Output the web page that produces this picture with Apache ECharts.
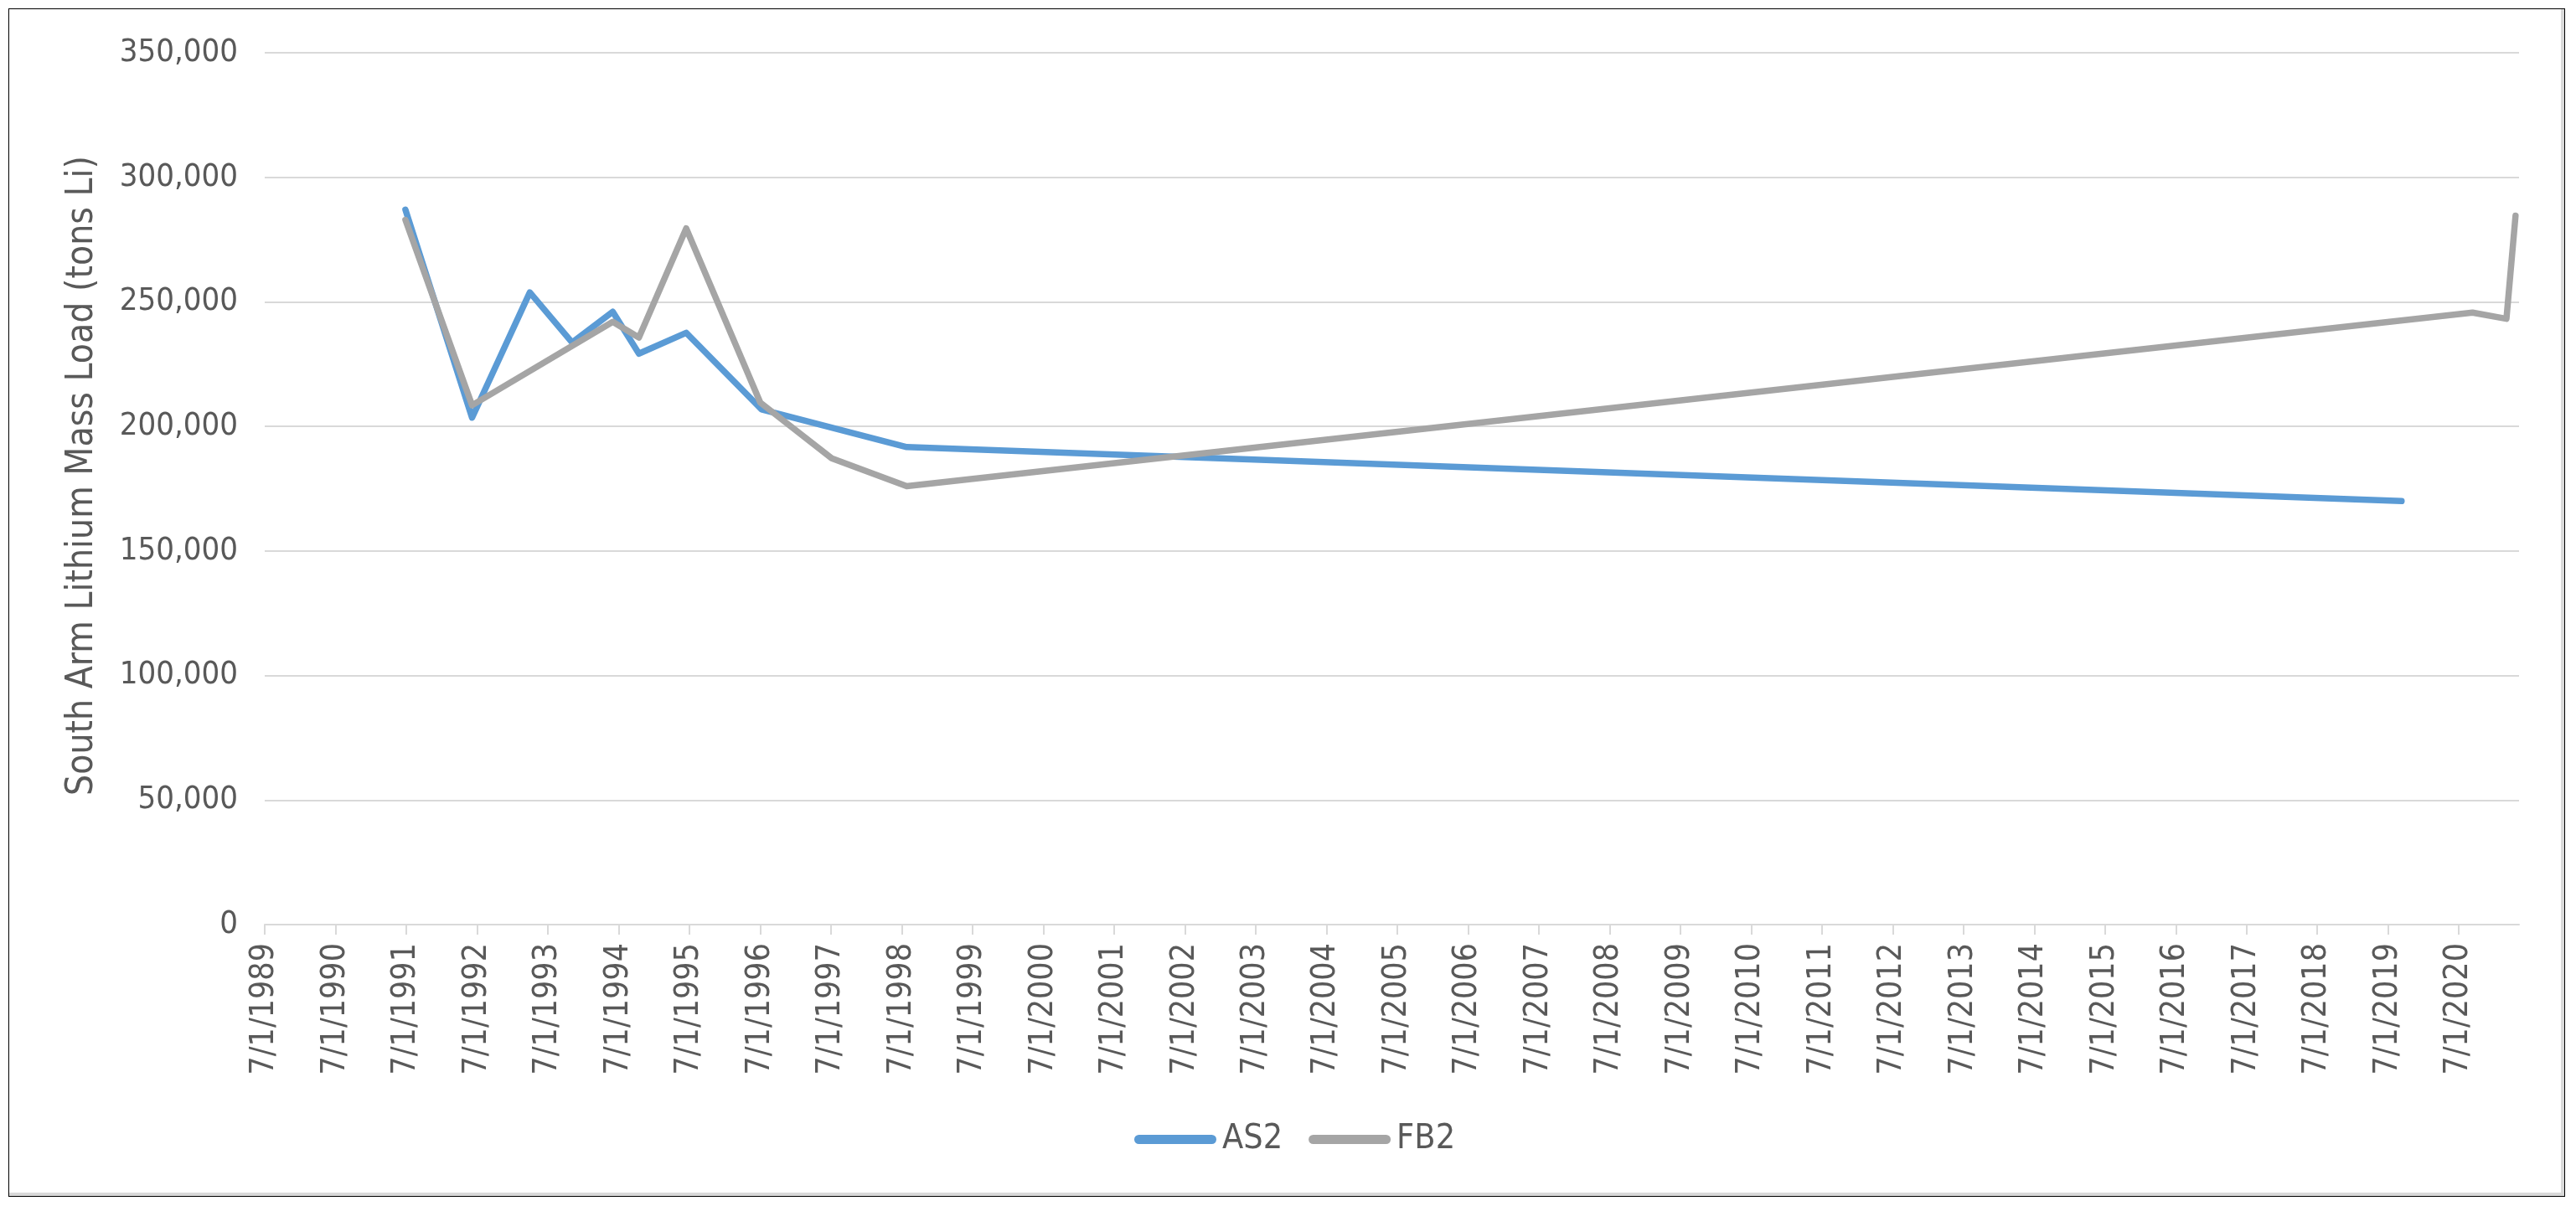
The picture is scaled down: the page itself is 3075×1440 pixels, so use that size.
<!DOCTYPE html>
<html>
<head>
<meta charset="utf-8">
<script src="https://cdn.jsdelivr.net/npm/echarts@6/dist/echarts.min.js"></script>
<style>
  html, body { margin: 0; padding: 0; background: #ffffff; }
  #wrap { position: relative; width: 3075px; height: 1440px; overflow: hidden; }
  #chart { position: absolute; left: 0; top: 0; width: 3075px; height: 1440px; }
  #frame { position: absolute; left: 10px; top: 10px; width: 3050px; height: 1417px;
           border: 1px solid #000; box-shadow: inset -4px -4px 0 #d9d9d9; pointer-events: none; }
</style>
</head>
<body>
<div id="wrap">
  <div id="chart"></div>
  <div id="frame"></div>
</div>
<script>
// ---- data ----
const seriesNames = ['AS2', 'FB2'];
const as2Dates = ['1991-06-27', '1992-06-05', '1993-03-30', '1993-11-03', '1994-06-01', '1994-10-14', '1995-06-15', '1996-07-08', '1998-07-27', '2019-09-09'];
const as2Values = [287000, 203500, 253800, 233700, 246000, 229200, 237600, 206800, 191700, 170000];
const fb2Dates = ['1991-06-27', '1992-06-05', '1994-06-01', '1994-10-14', '1995-06-15', '1996-07-01', '1997-07-05', '1998-07-27', '2020-09-09', '2021-03-03', '2021-04-19'];
const fb2Values = [282900, 208500, 242000, 235700, 279500, 209600, 187200, 176000, 245700, 243200, 284600];
const xTickLabels = ['7/1/1989','7/1/1990','7/1/1991','7/1/1992','7/1/1993','7/1/1994','7/1/1995','7/1/1996','7/1/1997','7/1/1998','7/1/1999','7/1/2000','7/1/2001','7/1/2002','7/1/2003','7/1/2004','7/1/2005','7/1/2006','7/1/2007','7/1/2008','7/1/2009','7/1/2010','7/1/2011','7/1/2012','7/1/2013','7/1/2014','7/1/2015','7/1/2016','7/1/2017','7/1/2018','7/1/2019','7/1/2020'];
const yTitle = 'South Arm Lithium Mass Load (tons Li)';
const axisOrigin = '1989-07-01';
const xAxisEndDate = '2021-05-07';

// years since origin (7/1/1989)
const YEAR_MS = 365.25 * 24 * 3600 * 1000;
function toYears(d) { return (Date.parse(d + 'T00:00:00Z') - Date.parse(axisOrigin + 'T00:00:00Z')) / YEAR_MS; }
function pairs(dates, vals) { return dates.map((d, i) => [toYears(d), vals[i]]); }
const tickPositions = xTickLabels.map((_, i) => i);

const textColor = '#595959';
const chart = echarts.init(document.getElementById('chart'), null, { renderer: 'canvas' });
chart.setOption({
  backgroundColor: 'transparent',
  animation: false,
  grid: { left: 316, right: 68, top: 63, bottom: 336 },
  xAxis: {
    type: 'value',
    min: 0,
    max: toYears(xAxisEndDate),
    interval: 1,
    axisLine: { show: true, lineStyle: { color: '#d9d9d9', width: 2 } },
    axisTick: { show: true, length: 12, lineStyle: { color: '#d9d9d9', width: 2 }, customValues: tickPositions },
    axisLabel: {
      customValues: tickPositions,
      rotate: 90, margin: 22, color: textColor,
      fontFamily: 'DejaVu Sans Condensed', fontSize: 39,
      formatter: v => xTickLabels[Math.round(v)] || ''
    },
    splitLine: { show: false }
  },
  yAxis: {
    type: 'value',
    min: 0, max: 350000, interval: 50000,
    axisLine: { show: false },
    axisTick: { show: false },
    axisLabel: {
      margin: 32, color: textColor,
      fontFamily: 'DejaVu Sans Condensed', fontSize: 38,
      formatter: v => v.toLocaleString('en-US')
    },
    splitLine: { lineStyle: { color: '#d9d9d9', width: 2 } }
  },
  legend: {
    data: seriesNames,
    left: 1349,
    top: 1335,
    itemWidth: 98, itemHeight: 11, itemGap: 31,
    icon: 'path://M5.5,0 L92.5,0 A5.5,5.5 0 0 1 92.5,11 L5.5,11 A5.5,5.5 0 0 1 5.5,0 Z',
    textStyle: { color: textColor, fontFamily: 'DejaVu Sans Condensed', fontSize: 41, padding: [0, 0, 0, 2] }
  },
  graphic: [{
    type: 'text',
    x: 99, y: 568,
    rotation: Math.PI / 2,
    style: {
      text: yTitle,
      fill: textColor,
      font: '44px "DejaVu Sans Condensed"',
      align: 'center',
      verticalAlign: 'middle'
    }
  }],
  series: [
    {
      name: seriesNames[0], type: 'line', data: pairs(as2Dates, as2Values),
      symbol: 'none', color: '#5B9BD5',
      lineStyle: { width: 7.5, color: '#5B9BD5', cap: 'round', join: 'round' }
    },
    {
      name: seriesNames[1], type: 'line', data: pairs(fb2Dates, fb2Values),
      symbol: 'none', color: '#A5A5A5',
      lineStyle: { width: 7.5, color: '#A5A5A5', cap: 'round', join: 'round' }
    }
  ]
});
</script>
</body>
</html>
